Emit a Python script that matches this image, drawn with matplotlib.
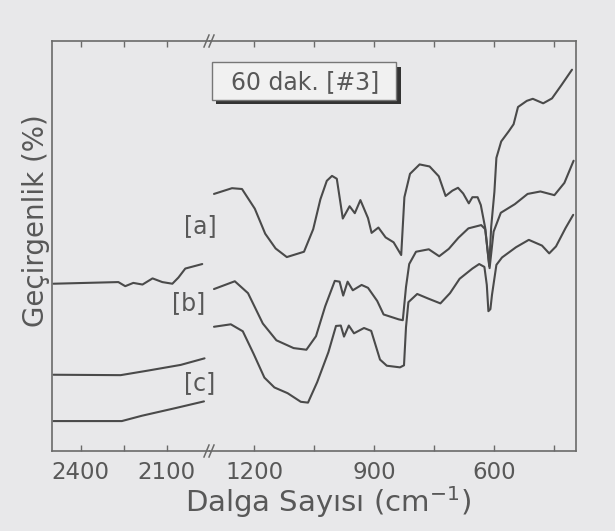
import matplotlib
matplotlib.use("Agg")
import matplotlib.pyplot as plt
from matplotlib.patches import Rectangle
from matplotlib.lines import Line2D

# ---- data (wavenumber in cm-1, transmittance in arbitrary %) ----
wn_a_left = [2495, 2269, 2245, 2217, 2185, 2150, 2116, 2081, 2060, 2036, 1977]
T_a_left = [40.8, 41.2, 40.2, 41.0, 40.6, 42.1, 41.2, 40.8, 42.3, 44.5, 45.6]

wn_b_left = [2495, 2261, 2167, 2052, 1969]
T_b_left = [18.6, 18.5, 19.6, 21.0, 22.6]

wn_c_left = [2495, 2257, 2187, 2068, 1971]
T_c_left = [7.3, 7.3, 8.6, 10.5, 12.1]

wn_a_right = [1300, 1255, 1230, 1198, 1172, 1146, 1118, 1075, 1052, 1034,
              1018, 1005, 993, 978, 961, 948, 934, 915, 906, 889,
              871, 851, 832, 824, 810, 786, 761, 738, 721, 704,
              690, 677, 663, 654, 641, 633, 622, 612, 607, 599,
              594, 582, 563, 551, 540, 518, 503, 477, 455, 431, 405]
T_a_right = [62.7, 64.1, 63.9, 59.1, 53.0, 49.4, 47.3, 48.6, 54.1, 61.4,
             65.9, 67.1, 66.4, 56.7, 59.7, 58.0, 61.2, 56.8, 53.2, 54.5,
             52.1, 50.9, 47.8, 61.9, 67.6, 69.9, 69.4, 67.0, 62.2, 63.5,
             64.2, 62.8, 60.4, 61.9, 61.9, 60.0, 54.4, 45.1, 54.7, 63.2,
             71.5, 75.5, 78.0, 79.7, 83.9, 85.4, 85.9, 84.8, 86.0, 89.3, 93.0]

wn_b_right = [1300, 1248, 1215, 1178, 1144, 1101, 1069, 1045, 1022, 998,
              986, 977, 966, 953, 931, 915, 892, 876, 838, 828,
              820, 812, 795, 763, 737, 713, 689, 664, 632, 622,
              611, 601, 583, 548, 516, 484, 449, 424, 401]
T_b_right = [39.5, 41.4, 38.5, 31.1, 27.0, 25.1, 24.7, 28.0, 35.3, 41.5,
             41.3, 37.9, 41.3, 39.2, 40.5, 39.8, 36.6, 33.3, 32.1, 31.9,
             40.0, 45.6, 48.6, 49.2, 47.5, 49.3, 52.0, 54.3, 55.1, 54.1,
             44.6, 53.5, 58.1, 60.2, 62.7, 63.3, 62.4, 65.4, 70.8]

wn_c_right = [1300, 1258, 1228, 1201, 1174, 1149, 1116, 1083, 1065, 1042,
              1014, 995, 983, 975, 963, 950, 925, 907, 885, 868,
              835, 825, 820, 814, 792, 765, 734, 710, 686, 654,
              637, 624, 618, 614, 609, 605, 594, 580, 545, 513,
              480, 462, 445, 421, 402]
T_c_right = [30.3, 30.9, 29.2, 23.7, 17.9, 15.5, 14.1, 12.0, 11.8, 16.8,
             24.1, 30.5, 30.6, 27.9, 30.6, 28.7, 30.0, 29.3, 22.3, 20.8,
             20.4, 20.9, 30.2, 36.3, 38.3, 37.2, 36.0, 38.5, 42.0, 44.5,
             45.6, 44.9, 40.5, 34.1, 34.6, 38.1, 45.4, 47.2, 49.7, 51.5,
             50.1, 48.2, 49.9, 54.4, 57.6]

left_major = [2400, 2100]
left_minor = [2250]
right_major = [1200, 900, 600]
right_minor = [1050, 750, 450]

series_labels = ["[a]", "[b]", "[c]"]
title_text = "60 dak. [#3]"
xlabel_text = "Dalga Say\u0131s\u0131 (cm$^{-1}$)"
ylabel_text = "Ge\u00e7irgenlik (%)"

# ---- style ----
BG = "#e8e8ea"
LINE = "#4a4a4a"
TXT = "#585858"
SPINE = "#6a6a6a"

W, H = 615, 531
def fx(p):
    return p / W
def fy(p):
    return 1 - p / H

fig = plt.figure(figsize=(6.15, 5.31), dpi=100, facecolor=BG)

x0, xb, x1 = 52, 210, 576
ytop, ybot = 41, 451
axL = fig.add_axes([fx(x0), fy(ybot), (xb - x0) / W, (ybot - ytop) / H])
axR = fig.add_axes([fx(xb), fy(ybot), (x1 - xb) / W, (ybot - ytop) / H])

for ax in (axL, axR):
    ax.set_facecolor(BG)
    ax.set_ylim(0, 100)
    ax.set_yticks([])
    for s in ax.spines.values():
        s.set_color(SPINE)
        s.set_linewidth(1.2)
    ax.tick_params(axis="x", which="both", direction="in", top=True,
                   length=4, width=1, color=SPINE, labelsize=16.5,
                   labelcolor=TXT, pad=7)
axL.spines["right"].set_visible(False)
axR.spines["left"].set_visible(False)

axL.set_xlim(2500, 1950)
axR.set_xlim(1310, 395)
axL.set_xticks(left_major)
axL.set_xticks(left_minor, minor=True)
axR.set_xticks(right_major)
axR.set_xticks(right_minor, minor=True)
axL.set_xticklabels([str(v) for v in left_major])
axR.set_xticklabels([str(v) for v in right_major])

kw = dict(color=LINE, lw=1.5, solid_joinstyle="round", solid_capstyle="round")
axL.plot(wn_a_left, T_a_left, **kw)
axL.plot(wn_b_left, T_b_left, **kw)
axL.plot(wn_c_left, T_c_left, **kw)
axR.plot(wn_a_right, T_a_right, **kw)
axR.plot(wn_b_right, T_b_right, **kw)
axR.plot(wn_c_right, T_c_right, **kw)

# break marks //
for yb in (ytop, ybot):
    for dx in (-4, 1):
        fig.add_artist(Line2D([fx(xb + dx - 2), fx(xb + dx + 3)],
                              [fy(yb + 6), fy(yb - 6)], color=SPINE, lw=1.1))

# series labels
for lab, (px, py) in zip(series_labels, [(200, 226), (189, 303), (200, 383)]):
    fig.text(fx(px), fy(py), lab, ha="center", va="center",
             fontsize=17, color=TXT)

# title box with shadow
fig.add_artist(Rectangle((fx(216), fy(104)), (401 - 216) / W, (104 - 67) / H,
                         transform=fig.transFigure, facecolor="#333333",
                         edgecolor="none"))
fig.add_artist(Rectangle((fx(212), fy(100)), (396 - 212) / W, (100 - 62) / H,
                         transform=fig.transFigure, facecolor="#f1f1f1",
                         edgecolor="#777777", lw=1.0))
fig.text(fx(305), fy(82), title_text, ha="center", va="center",
         fontsize=17, color=TXT)

# axis labels
fig.text(fx(328), fy(512), xlabel_text, ha="center", va="baseline",
         fontsize=21, color=TXT)
fig.text(fx(36), fy(221), ylabel_text, ha="center", va="center",
         rotation=90, fontsize=20, color=TXT)

fig.savefig("out.png", dpi=100, facecolor=BG)
